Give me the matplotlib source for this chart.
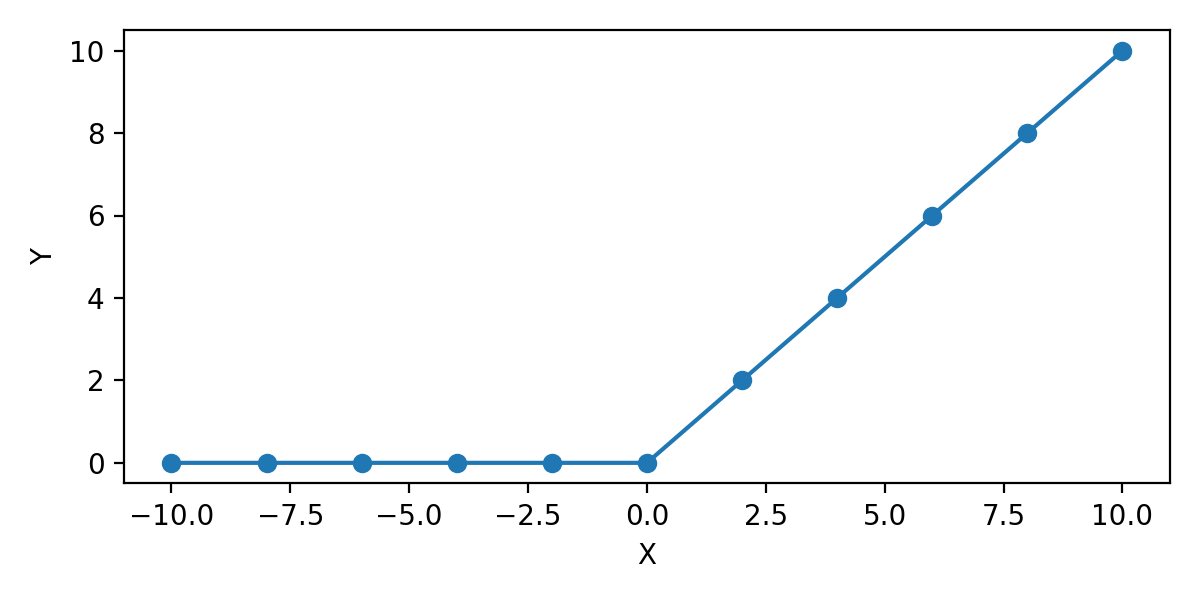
import matplotlib
matplotlib.use("Agg")
import matplotlib.pyplot as plt

x_vals = [-10, -8, -6, -4, -2, 0, 2, 4, 6, 8, 10]
y_vals = [0, 0, 0, 0, 0, 0, 2, 4, 6, 8, 10]

fig, ax = plt.subplots(figsize=(6, 3), dpi=200)
ax.plot(x_vals, y_vals, marker="o")
ax.set_xlabel("X")
ax.set_ylabel("Y")
plt.tight_layout()
plt.savefig("out.png")
plt.close()
